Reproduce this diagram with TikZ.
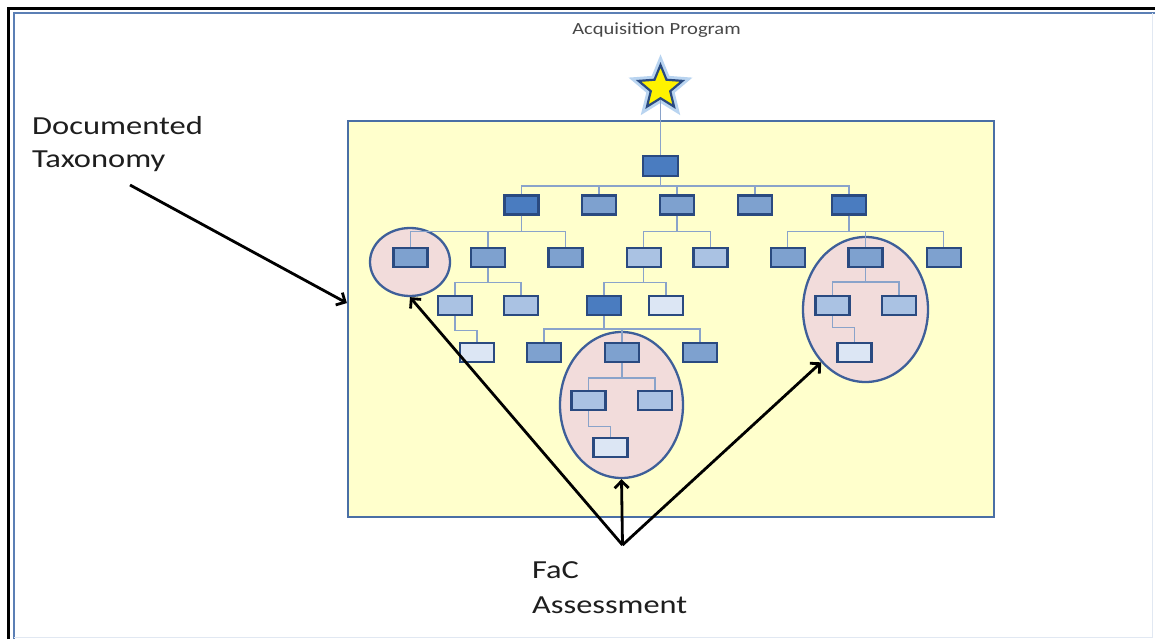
\documentclass[tikz,border=0pt]{standalone}
\usepackage{fontspec}
\setmainfont{Carlito}
\usetikzlibrary{shapes.geometric,arrows.meta,calc}
\definecolor{bxDfill}{HTML}{4A7CC0}
\definecolor{bxMfill}{HTML}{7EA1CF}
\definecolor{bxLfill}{HTML}{AAC2E3}
\definecolor{bxWfill}{HTML}{DCE6F4}
\definecolor{bxline}{HTML}{2A4A80}
\definecolor{connc}{HTML}{8AA3CA}
\definecolor{panelfill}{HTML}{FFFFCC}
\definecolor{panelline}{HTML}{4A6FA5}
\definecolor{ovalfill}{HTML}{F2DCDB}
\definecolor{ovalline}{HTML}{3E5F99}
\definecolor{txtc}{HTML}{1E1E1E}
\definecolor{framec}{HTML}{5B7FB5}
\definecolor{glowc}{HTML}{9CC3EB}
\tikzset{
  bxbase/.style={draw=bxline, line width=2.2pt, minimum width=34pt, minimum height=19pt, inner sep=0pt},
  bxD/.style={bxbase, fill=bxDfill},
  bxM/.style={bxbase, fill=bxMfill},
  bxL/.style={bxbase, fill=bxLfill},
  bxW/.style={bxbase, fill=bxWfill},
  conn/.style={draw=connc, line width=1.6pt},
  ovalshape/.style={ellipse, draw=ovalline, fill=ovalfill, line width=2.3pt, inner sep=0pt},
  arr/.style={draw=black, line width=2.8pt, -{Straight Barb[length=7pt,width=14pt]}},
}
\begin{document}
\begin{tikzpicture}[x=1pt,y=-1pt]
\useasboundingbox (0,0) rectangle (1155,639);
\fill[white] (0,0) rectangle (1155,639);
% outer frame
\draw[black, line width=3pt] (8.5,639) -- (8.5,8.5) -- (1155,8.5);
\draw[framec, line width=2pt] (14,639) -- (14,13) -- (1155,13);
\draw[framec!18, line width=1pt] (14,637.5) -- (1152,637.5) -- (1152,13);
% title
\node[anchor=base, inner sep=0pt, text=black!72] (title) at (656.5,34.7) {\scalebox{1.21}[1]{\fontsize{17}{20}\selectfont Acquisition Program}};
% panel
\node[draw=panelline, fill=panelfill, line width=2.2pt, minimum width=646pt, minimum height=396pt, inner sep=0pt] (panel) at (671,319) {};
% ovals
\node[ovalshape, minimum width=80pt, minimum height=68pt] (cl) at (410,262) {};
\node[ovalshape, minimum width=123pt, minimum height=146pt] (co) at (621.5,405) {};
\node[ovalshape, minimum width=125pt, minimum height=145pt] (cr) at (865.5,309.5) {};
% star
\node[star, star points=5, star point ratio=2.25, minimum size=46pt, inner sep=0pt, draw=glowc, line width=8pt, opacity=0.7] (glow) at (660.5,88) {};
\node[star, star points=5, star point ratio=2.25, minimum size=46pt, inner sep=0pt, fill=yellow, draw=bxline, line width=2.2pt] (star) at (660.5,88) {};
% boxes
\node[bxD, minimum width=35pt, minimum height=20pt] (root) at (660.5,166) {};
\node[bxD] (a1) at (521.5,205) {};
\node[bxM] (a2) at (599,205) {};
\node[bxM] (a3) at (677,205) {};
\node[bxM] (a4) at (755,205) {};
\node[bxD] (a5) at (849,205) {};
\node[bxM] (b1) at (410.5,257.5) {};
\node[bxM] (b2) at (488,257.5) {};
\node[bxM] (b3) at (565.5,257.5) {};
\node[bxL] (b4) at (643.6,257.5) {};
\node[bxL] (b5) at (710.4,257.5) {};
\node[bxM] (b6) at (787.6,257.5) {};
\node[bxM] (b7) at (865.5,257.5) {};
\node[bxM] (b8) at (943.6,257.5) {};
\node[bxL] (c1) at (455,305.5) {};
\node[bxL] (c2) at (521,305.5) {};
\node[bxD] (c3) at (604,305.5) {};
\node[bxW] (c4) at (666,305.5) {};
\node[bxL] (c5) at (832.5,305.5) {};
\node[bxL] (c6) at (899,305.5) {};
\node[bxW] (d1) at (477,352.5) {};
\node[bxM] (d2) at (544,352.5) {};
\node[bxM] (d3) at (622,352.5) {};
\node[bxM] (d4) at (700,352.5) {};
\node[bxW] (d5) at (854.5,352.5) {};
\node[bxL] (e1) at (588.5,400.5) {};
\node[bxL] (e2) at (655,400.5) {};
\node[bxW] (f1) at (610.5,447.5) {};
% connectors
\draw[conn] (star.south) -- (root.north);
\foreach \ch in {a1,a2,a3,a4,a5} \draw[conn] (root.south) -- ++(0,9) -| (\ch.north);
\foreach \ch in {b1,b2,b3} \draw[conn] (a1.south) -- ++(0,16) -| (\ch.north);
\foreach \ch in {b4,b5} \draw[conn] (a3.south) -- ++(0,16) -| (\ch.north);
\foreach \ch in {b6,b7,b8} \draw[conn] (a5.south) -- ++(0,16) -| (\ch.north);
\foreach \ch in {c1,c2} \draw[conn] (b2.south) -- ++(0,14.5) -| (\ch.north);
\foreach \ch in {c3,c4} \draw[conn] (b4.south) -- ++(0,14.5) -| (\ch.north);
\foreach \ch in {c5,c6} \draw[conn] (b7.south) -- ++(0,14) -| (\ch.north);
\draw[conn] (c1.south) -- ++(0,14.5) -| (d1.north);
\foreach \ch in {d2,d3,d4} \draw[conn] (c3.south) -- ++(0,13) -| (\ch.north);
\draw[conn] (c5.south) -- ++(0,11.5) -| (d5.north);
\foreach \ch in {e1,e2} \draw[conn] (d3.south) -- ++(0,15) -| (\ch.north);
\draw[conn] (e1.south) -- ++(0,15.5) -| (f1.north);
% labels
\node[anchor=base west, inner sep=0pt, text=txtc] (doc) at (32,135) {\scalebox{1.25}[1]{\fontsize{26}{33}\selectfont\begin{tabular}[t]{@{}l@{}}Documented\\Taxonomy\end{tabular}}};
\node[anchor=base west, inner sep=0pt, text=txtc] (fac) at (532,578) {\scalebox{1.245}[1]{\fontsize{26}{35}\selectfont\begin{tabular}[t]{@{}l@{}}FaC\\Assessment\end{tabular}}};
% arrows
\coordinate (docTail) at (130,185);
\coordinate (docTip) at ($(panel.north west)!0.46!(panel.south west)$);
\draw[arr] (docTail) -- (docTip);
\coordinate (apex) at (622.5,545);
\draw[arr] (apex) -- (cl.south);
\draw[arr] (apex) -- (co.south);
\draw[arr] (apex) -- (cr.230);
\end{tikzpicture}
\end{document}
